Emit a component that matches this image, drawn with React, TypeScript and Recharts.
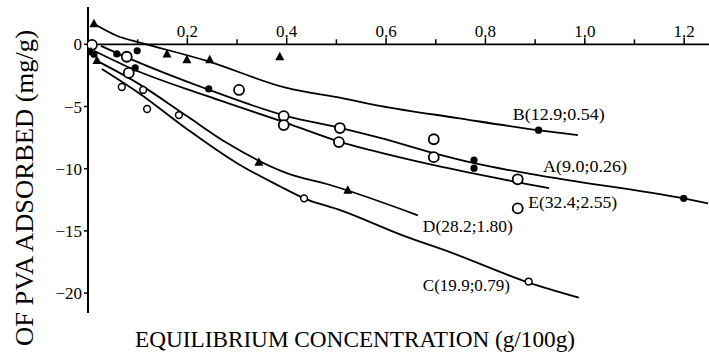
import React from 'react';
import { ComposedChart, Line, Scatter, XAxis, YAxis, ReferenceLine, ReferenceDot } from 'recharts';

// Fitted curves (traced)
const curveA = [
  { x: 0.026, y: -0.12 }, { x: 0.085, y: -1.17 }, { x: 0.239, y: -3.59 }, { x: 0.4, y: -5.77 },
  { x: 0.509, y: -6.73 }, { x: 0.59, y: -7.54 }, { x: 0.696, y: -8.75 }, { x: 0.777, y: -9.56 },
  { x: 0.932, y: -10.69 }, { x: 1.199, y: -12.38 }, { x: 1.248, y: -12.78 },
];
const curveB = [
  { x: 0.012, y: 1.65 }, { x: 0.058, y: 0.69 }, { x: 0.107, y: 0.12 }, { x: 0.239, y: -1.33 },
  { x: 0.4, y: -3.51 }, { x: 0.509, y: -4.31 }, { x: 0.59, y: -4.96 }, { x: 0.744, y: -5.93 },
  { x: 0.905, y: -6.9 }, { x: 0.986, y: -7.3 },
];
const curveC = [
  { x: 0.028, y: -1.98 }, { x: 0.105, y: -3.99 }, { x: 0.199, y: -6.81 }, { x: 0.3, y: -9.56 },
  { x: 0.386, y: -11.41 }, { x: 0.435, y: -12.38 }, { x: 0.509, y: -13.35 }, { x: 0.636, y: -15.4 },
  { x: 0.73, y: -16.73 }, { x: 0.887, y: -19.15 }, { x: 0.988, y: -20.36 },
];
const curveD = [
  { x: 0.018, y: -1.33 }, { x: 0.099, y: -3.1 }, { x: 0.199, y: -5.77 }, { x: 0.28, y: -7.94 },
  { x: 0.4, y: -10.36 }, { x: 0.489, y: -11.33 }, { x: 0.664, y: -13.75 },
];
const curveE = [
  { x: 0.012, y: -0.52 }, { x: 0.085, y: -1.9 }, { x: 0.239, y: -4.15 }, { x: 0.4, y: -6.33 },
  { x: 0.509, y: -7.86 }, { x: 0.569, y: -8.51 }, { x: 0.696, y: -9.72 }, { x: 0.865, y: -11.09 },
  { x: 0.928, y: -11.57 },
];

// Measured points by marker type
const filledDots = [
  { x: 0.012, y: -0.8 }, { x: 0.058, y: -0.77 }, { x: 0.099, y: -0.52 }, { x: 0.095, y: -1.9 },
  { x: 0.243, y: -3.59 }, { x: 0.777, y: -9.3 }, { x: 0.777, y: -9.96 }, { x: 0.907, y: -6.9 },
  { x: 1.199, y: -12.38 },
];
const bigOpenCircles = [
  { x: 0.008, y: -0.04 }, { x: 0.078, y: -1.0 }, { x: 0.082, y: -2.3 }, { x: 0.304, y: -3.67 },
  { x: 0.394, y: -5.77 }, { x: 0.394, y: -6.49 }, { x: 0.507, y: -6.73 }, { x: 0.505, y: -7.86 },
  { x: 0.696, y: -7.63 }, { x: 0.696, y: -9.07 }, { x: 0.865, y: -10.85 }, { x: 0.865, y: -13.19 },
];
const smallOpenCircles = [
  { x: 0.068, y: -3.43 }, { x: 0.111, y: -3.67 }, { x: 0.119, y: -5.2 }, { x: 0.183, y: -5.69 },
  { x: 0.435, y: -12.38 }, { x: 0.887, y: -19.07 },
];
const triangles = [
  { x: 0.012, y: 1.65 }, { x: 0.006, y: -0.6 }, { x: 0.018, y: -1.3 }, { x: 0.159, y: -0.77 },
  { x: 0.199, y: -1.25 }, { x: 0.245, y: -1.25 }, { x: 0.386, y: -1.0 }, { x: 0.344, y: -9.48 },
  { x: 0.523, y: -11.73 },
];

// Axes
const xMajorTicks = [0.2, 0.4, 0.6, 0.8, 1.0, 1.2];
const xMajorLabels = ['0.2', '0.4', '0.6', '0.8', '1.0', '1.2'];
const xMinorTicks = [0.1, 0.3, 0.5, 0.7, 0.9, 1.1];
const yTicks = [0, -5, -10, -15, -20];

// Curve labels
const curveLabels = ['B(12.9;0.54)', 'A(9.0;0.26)', 'E(32.4;2.55)', 'D(28.2;1.80)', 'C(19.9;0.79)'];
const curveLabelX = [0.855, 0.916, 0.886, 0.674, 0.674];
const curveLabelY = [-6.09, -10.27, -13.16, -15.09, -19.83];
const curveLabelLen = [92, 84, 89, 90, 87];

const FONT = '"Liberation Serif", "Times New Roman", serif';
const txt = { fontFamily: FONT, fill: '#000' };

const Tri = (p: any) => (
  <path d={`M${p.cx},${p.cy - 5} L${p.cx + 4.5},${p.cy + 3.5} L${p.cx - 4.5},${p.cy + 3.5} Z`} fill="#000" />
);
const Dot = (p: any) => <circle cx={p.cx} cy={p.cy} r={3.6} fill="#000" />;
const BigO = (p: any) => <circle cx={p.cx} cy={p.cy} r={5} fill="#fff" stroke="#000" strokeWidth={1.8} />;
const SmallO = (p: any) => <circle cx={p.cx} cy={p.cy} r={3.4} fill="#fff" stroke="#000" strokeWidth={1.5} />;

const YTick = (p: any) => {
  const v = p.payload.value;
  return (
    <text x={p.x} y={p.y} dy={6} textAnchor="end" fontSize={17} style={txt}>
      {v === 0 ? '0' : '\u2212' + Math.abs(v)}
    </text>
  );
};

const lineProps = {
  dataKey: 'y',
  type: 'monotone' as const,
  stroke: '#000',
  strokeWidth: 1.8,
  dot: false,
  activeDot: false,
  isAnimationActive: false,
};

export default function App() {
  return (
    <div style={{ position: 'absolute', left: 0, top: 0, width: 709, height: 352, background: '#fff' }}>
      <ComposedChart width={709} height={352} margin={{ top: 7, right: 0, bottom: 39, left: 28 }}>
        <XAxis dataKey="x" type="number" domain={[0, 1.25]} hide allowDataOverflow />
        <YAxis
          type="number"
          domain={[-21.6, 3]}
          ticks={yTicks}
          allowDataOverflow
          width={60}
          tickSize={4}
          tickMargin={2}
          axisLine={{ stroke: '#000', strokeWidth: 2 }}
          tickLine={{ stroke: '#000', strokeWidth: 1.5 }}
          tick={<YTick />}
        />
        <ReferenceLine
          segment={[{ x: 0.02, y: 0 }, { x: 1.25, y: 0 }]}
          stroke="#000"
          strokeWidth={1.8}
        />
        {xMajorTicks.map((t) => (
          <ReferenceLine key={'mj' + t} segment={[{ x: t, y: 0 }, { x: t, y: 0.55 }]} stroke="#000" strokeWidth={1.5} />
        ))}
        {xMinorTicks.map((t) => (
          <ReferenceLine key={'mn' + t} segment={[{ x: t, y: 0 }, { x: t, y: 0.4 }]} stroke="#000" strokeWidth={1.5} />
        ))}
        {xMajorTicks.map((t, i) => (
          <ReferenceDot
            key={'lb' + t}
            x={t}
            y={0}
            r={0}
            shape={(p: any) => (
              <text x={p.cx} y={p.cy - 7} textAnchor="middle" fontSize={17} style={txt}>
                {xMajorLabels[i]}
              </text>
            )}
          />
        ))}
        <Line data={curveA} {...lineProps} />
        <Line data={curveB} {...lineProps} />
        <Line data={curveC} {...lineProps} />
        <Line data={curveD} {...lineProps} />
        <Line data={curveE} {...lineProps} />
        <Scatter data={bigOpenCircles} dataKey="y" shape={BigO} isAnimationActive={false} />
        <Scatter data={smallOpenCircles} dataKey="y" shape={SmallO} isAnimationActive={false} />
        <Scatter data={filledDots} dataKey="y" shape={Dot} isAnimationActive={false} />
        <Scatter data={triangles} dataKey="y" shape={Tri} isAnimationActive={false} />
        {curveLabels.map((s, i) => (
          <ReferenceDot
            key={'cl' + i}
            x={curveLabelX[i]}
            y={curveLabelY[i]}
            r={0}
            shape={(p: any) => (
              <text
                x={p.cx}
                y={p.cy}
                fontSize={17}
                style={txt}
                textLength={curveLabelLen[i]}
                lengthAdjust="spacingAndGlyphs"
              >
                {s}
              </text>
            )}
          />
        ))}
        <text
          x={33}
          y={30}
          transform="rotate(-90, 33, 30)"
          textAnchor="end"
          fontSize={26}
          style={txt}
          textLength={316}
          lengthAdjust="spacingAndGlyphs"
        >
          OF PVA ADSORBED (mg/g)
        </text>
        <text
          x={135}
          y={347}
          fontSize={23}
          style={txt}
          textLength={440}
          lengthAdjust="spacingAndGlyphs"
        >
          EQUILIBRIUM CONCENTRATION (g/100g)
        </text>
      </ComposedChart>
    </div>
  );
}
